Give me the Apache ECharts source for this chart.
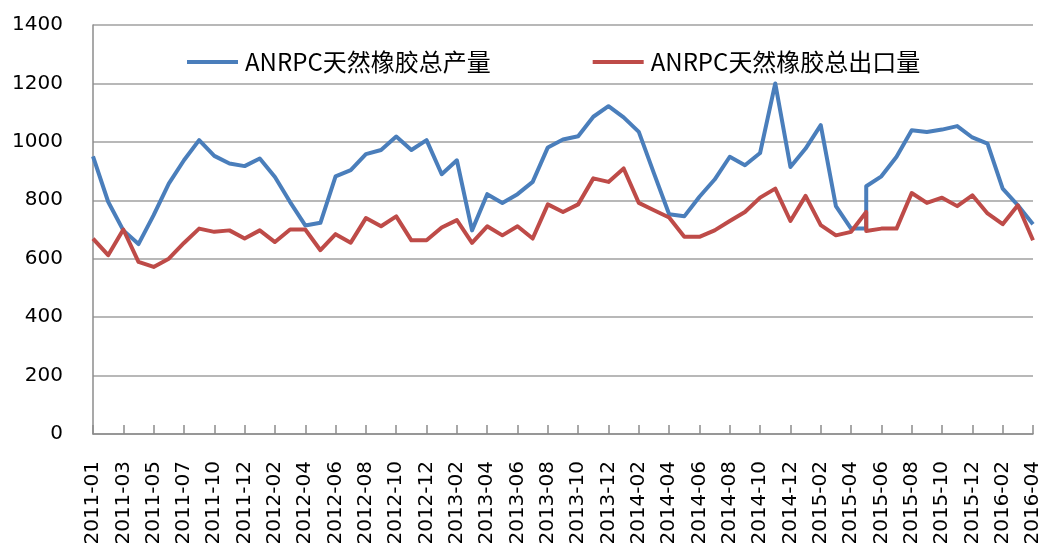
<!DOCTYPE html>
<html>
<head>
<meta charset="utf-8">
<title>ANRPC天然橡胶</title>
<script src="https://cdn.jsdelivr.net/npm/echarts@6/dist/echarts.min.js"></script>
<style>
	html, body { margin: 0; padding: 0; background: #fff; }
	#main { width: 1048px; height: 552px; }
</style>
</head>
<body>
<div id="main"></div>
<script>
// 原始数据里 2015-05 出现了两次(两段数据拼接)，所以 months 比坐标轴多一项
var months = [
	'2011-01', '2011-02', '2011-03', '2011-04', '2011-05', '2011-06', '2011-07', '2011-09', '2011-10', '2011-11', '2011-12',
	'2012-01', '2012-02', '2012-03', '2012-04', '2012-05', '2012-06', '2012-07', '2012-08', '2012-09', '2012-10', '2012-11', '2012-12',
	'2013-01', '2013-02', '2013-03', '2013-04', '2013-05', '2013-06', '2013-07', '2013-08', '2013-09', '2013-10', '2013-11', '2013-12',
	'2014-01', '2014-02', '2014-03', '2014-04', '2014-05', '2014-06', '2014-07', '2014-08', '2014-09', '2014-10', '2014-11', '2014-12',
	'2015-01', '2015-02', '2015-03', '2015-04', '2015-05', '2015-05', '2015-06', '2015-07', '2015-08', '2015-09', '2015-10', '2015-11', '2015-12',
	'2016-01', '2016-02', '2016-03', '2016-04'
];
var production = [
	950, 795, 697, 650, 749, 857, 937, 1006, 952, 926, 917,
	943, 880, 794, 714, 723, 882, 903, 958, 972, 1018, 972, 1006,
	889, 937, 697, 821, 791, 821, 863, 981, 1008, 1019, 1086, 1122,
	1084, 1034, 892, 752, 745, 812, 871, 949, 920, 962, 1200, 914,
	977, 1057, 780, 703, 703, 848, 882, 949, 1040, 1034, 1042, 1054, 1015,
	994, 840, 783, 718
];
var exports = [
	669, 612, 700, 589, 572, 600, 654, 703, 692, 697, 669,
	697, 657, 700, 700, 629, 684, 655, 739, 711, 745, 663, 663,
	707, 732, 654, 711, 680, 711, 669, 786, 760, 786, 875, 863,
	909, 791, 766, 741, 675, 675, 697, 729, 760, 809, 840, 729,
	815, 715, 680, 692, 760, 695, 703, 703, 825, 791, 809, 780, 817,
	755, 718, 783, 663
];
var yTicks = { min: 0, max: 1400, step: 200 };
var seriesNames = ['ANRPC天然橡胶总产量', 'ANRPC天然橡胶总出口量'];

// 坐标轴类目去重
var categories = months.filter(function(m, i) { return months.indexOf(m) === i; });

function pairs(vals) {
	return months.map(function(m, i) { return [m, vals[i]]; });
}

var chart = echarts.init(document.getElementById('main'), null, { renderer: 'canvas' });
var colorList = ['#4A7EBB', '#BE4B48'];

var option = {
	backgroundColor: '#fff',
	animation: false,
	legend: {
		data: seriesNames,
		left: 182,
		top: 45,
		icon: 'rect',
		itemWidth: 51,
		itemHeight: 4,
		itemGap: 102,
		textStyle: {
			fontFamily: 'Noto Sans CJK SC',
			fontSize: 24,
			color: '#000',
			padding: [0, 0, 0, 2]
		}
	},
	grid: {
		left: 93,
		right: 15,
		top: 25,
		bottom: 118
	},
	xAxis: {
		type: 'category',
		data: categories,
		boundaryGap: false,
		axisLine: {
			lineStyle: { color: '#8C8C8C', width: 1.5 }
		},
		axisTick: {
			interval: 1,
			inside: true,
			length: 9,
			lineStyle: { color: '#8C8C8C', width: 1.5 }
		},
		axisLabel: {
			interval: 1,
			rotate: 90,
			margin: 27,
			color: '#000',
			fontFamily: 'DejaVu Sans',
			fontSize: 20
		},
		splitLine: { show: false }
	},
	yAxis: {
		type: 'value',
		min: yTicks.min,
		max: yTicks.max,
		interval: yTicks.step,
		axisLine: {
			show: true,
			lineStyle: { color: '#8C8C8C', width: 1.5 }
		},
		axisTick: { show: false },
		axisLabel: {
			margin: 30,
			color: '#000',
			fontFamily: 'DejaVu Sans',
			fontSize: 20,
			formatter: function(v) { return String(v); }
		},
		splitLine: {
			lineStyle: { color: '#A0A0A0', width: 1.5 }
		}
	},
	series: [{
		name: seriesNames[0],
		type: 'line',
		data: pairs(production),
		symbol: 'none',
		lineStyle: { width: 4, color: colorList[0], join: 'round' },
		itemStyle: { color: colorList[0] }
	}, {
		name: seriesNames[1],
		type: 'line',
		data: pairs(exports),
		symbol: 'none',
		lineStyle: { width: 4, color: colorList[1], join: 'round' },
		itemStyle: { color: colorList[1] }
	}]
};

chart.setOption(option);
</script>
</body>
</html>
